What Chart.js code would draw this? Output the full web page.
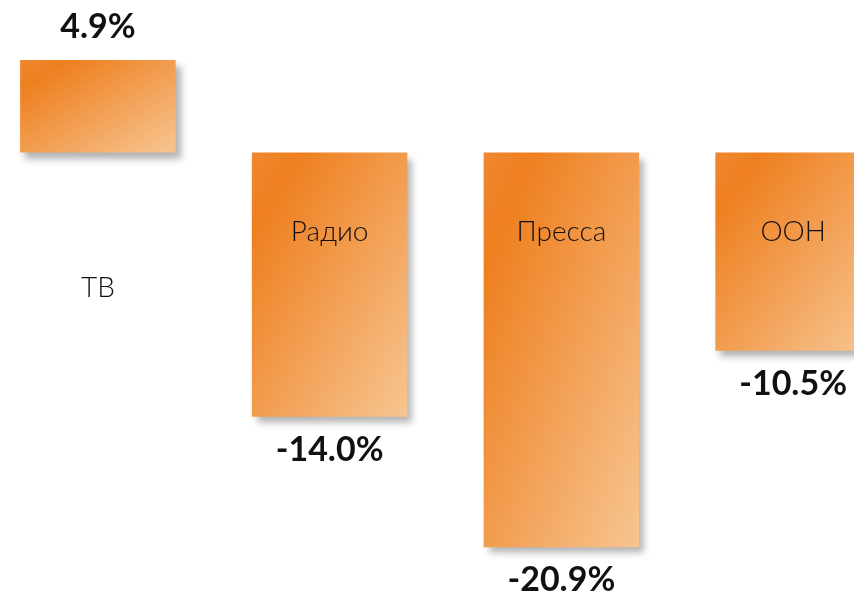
<!DOCTYPE html>
<html>
<head>
<meta charset="utf-8">
<script src="https://cdn.jsdelivr.net/npm/chart.js@4.4.1/dist/chart.umd.min.js"></script>
<style>
  html, body { margin:0; padding:0; background:#fff; overflow:hidden; width:854px; height:600px; }
  #wrap { position:absolute; left:-18px; top:0; width:927px; height:600px; }
</style>
</head>
<body>
<div id="wrap"><canvas id="chart" width="927" height="600"></canvas></div>
<script>
// Данные: прирост рекламных бюджетов по медиа
const categories = ['ТВ', 'Радио', 'Пресса', 'ООН'];
const values     = [4.9, -14.0, -20.9, -10.5];
const valueLabels = ['4.9%', '-14.0%', '-20.9%', '-10.5%'];

// градиент по диагонали, растянутый по форме столбца
const barGradient = (c)=>{
  const chart = c.chart;
  const sx = chart.scales.x, sy = chart.scales.y;
  if(!sx || !sy || c.dataIndex === undefined) return '#EF8323';
  const i = c.dataIndex;
  const half = (sx.getPixelForValue(1) - sx.getPixelForValue(0)) * 0.671 / 2;
  const cx = sx.getPixelForValue(i);
  const yv = sy.getPixelForValue(values[i]), y0 = sy.getPixelForValue(0);
  if(![half, cx, yv, y0].every(Number.isFinite) || half <= 0) return '#EF8323';
  const left = cx - half, top = Math.min(yv, y0);
  const w = half*2, h = Math.abs(yv - y0);
  const k = 2*w*h / (w*w + h*h);
  const g = chart.ctx.createLinearGradient(left, top, left + h*k, top + w*k);
  g.addColorStop(0, '#EF8730');
  g.addColorStop(0.15, '#EE7F1F');
  g.addColorStop(1, '#F7C591');
  return g;
};

// тень под столбцами
const shadowPlugin = {
  id:'shadow',
  beforeDatasetsDraw(chart){
    const ctx = chart.ctx;
    ctx.save();
    ctx.shadowColor = 'rgba(0,0,0,0.30)';
    ctx.shadowBlur = 7;
    ctx.shadowOffsetX = 5;
    ctx.shadowOffsetY = 6;
  },
  afterDatasetsDraw(chart){
    chart.ctx.restore();
  }
};

// подписи: значения и названия категорий
const labelPlugin = {
  id:'labels',
  afterDraw(chart){
    const ctx = chart.ctx;
    const sx = chart.scales.x, sy = chart.scales.y;
    const y0 = sy.getPixelForValue(0);
    ctx.save();
    ctx.textAlign = 'center';
    ctx.textBaseline = 'middle';
    ctx.fillStyle = '#111';
    values.forEach((v, i)=>{
      const x = sx.getPixelForValue(i);
      const yv = sy.getPixelForValue(v);
      ctx.font = 'bold 34px Lato';
      ctx.fillText(valueLabels[i], x, v >= 0 ? yv - 33 : yv + 33);
      ctx.font = '300 28px Lato';
      ctx.fillText(categories[i], x, v >= 0 ? y0 + 135 : y0 + 79);
    });
    ctx.restore();
  }
};

const chart = new Chart(document.getElementById('chart'), {
  type:'bar',
  data:{
    labels: categories,
    datasets:[{
      data: values,
      backgroundColor: barGradient,
      borderWidth: 0,
      barPercentage: 1,
      categoryPercentage: 0.671
    }]
  },
  options:{
    responsive:false,
    animation:false,
    events:[],
    layout:{ padding:0 },
    plugins:{ legend:{ display:false }, tooltip:{ enabled:false } },
    scales:{
      x:{ display:false, offset:true },
      y:{ display:false, min:-23.70, max:8.08 }
    }
  },
  plugins:[shadowPlugin, labelPlugin]
});
chart.update();
</script>
</body>
</html>
